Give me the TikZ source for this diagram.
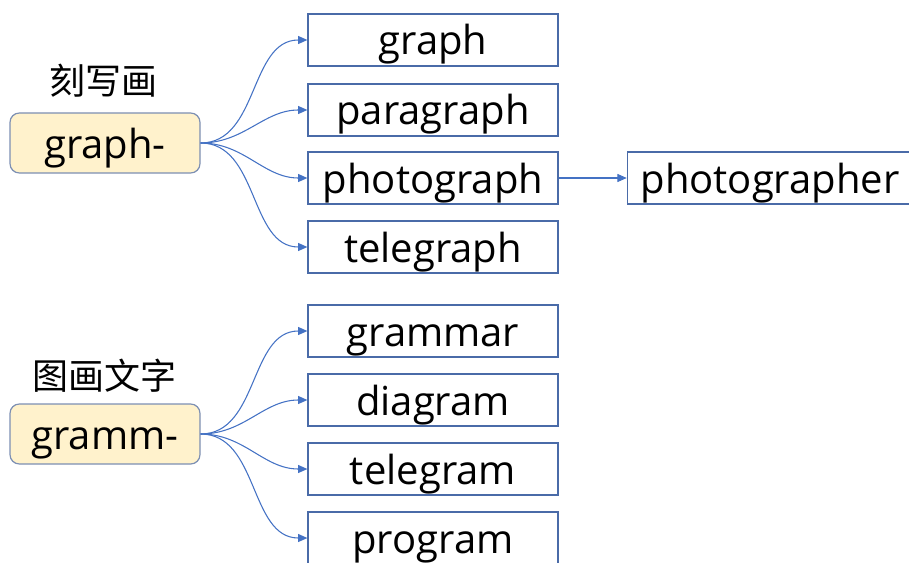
\documentclass[tikz,border=0pt]{standalone}
\usepackage{fontspec}
\usepackage{tikz}
\usetikzlibrary{arrows.meta}
\newfontfamily\wordfont{Open Sans}
\newfontfamily\cjk{Noto Sans CJK SC}
\definecolor{cline}{HTML}{4A6BA8}
\definecolor{carrow}{HTML}{4472C4}
\definecolor{croot}{HTML}{FFF2CC}
\definecolor{crootline}{HTML}{7C8FB3}
\tikzset{
  wordbox/.style={draw=cline,line width=0.9pt,minimum width=187.5pt,minimum height=39pt,
    inner sep=0pt,text height=22.5pt,text depth=0pt,font=\wordfont\fontsize{30}{32}\selectfont},
  rootbox/.style={draw=crootline,fill=croot,line width=0.9pt,rounded corners=7pt,
    minimum width=142.5pt,minimum height=45pt,inner sep=0pt,text height=22.5pt,text depth=0pt,
    font=\wordfont\fontsize{30}{32}\selectfont},
  meaning/.style={font=\cjk\fontsize{27}{30}\selectfont},
  link/.style={carrow,line width=0.8pt,-{Triangle[length=7pt,width=6pt]}}
}
\begin{document}
\begin{tikzpicture}[x=0.75pt,y=-0.75pt]
  \useasboundingbox (0,0) rectangle (909,563);
  % roots
  \node[rootbox] (graphroot) at (105,143) {graph-};
  \node[rootbox] (grammroot) at (105,434) {gramm-};
  \node[meaning] (graphmean) at (103,81) {刻写画};
  \node[meaning] (grammmean) at (104,376) {图画文字};
  % words
  \node[wordbox] (graph) at (433,40) {graph};
  \node[wordbox] (paragraph) at (433,110) {paragraph};
  \node[wordbox] (photograph) at (433,178) {photograph};
  \node[wordbox] (telegraph) at (433,247) {telegraph};
  \node[wordbox] (grammar) at (433,331) {grammar};
  \node[wordbox] (diagram) at (433,400) {diagram};
  \node[wordbox] (telegram) at (433,469) {telegram};
  \node[wordbox] (program) at (433,538) {program};
  \node[wordbox,minimum width=214pt] (photographer) at (770,178) {photographer};
  % links
  \foreach \w in {graph,paragraph,photograph,telegraph}
    {\draw[link] (graphroot.east) to[out=0,in=180] (\w.west);}
  \foreach \w in {grammar,diagram,telegram,program}
    {\draw[link] (grammroot.east) to[out=0,in=180] (\w.west);}
  \draw[link] (photograph) -- (photographer);
\end{tikzpicture}
\end{document}
